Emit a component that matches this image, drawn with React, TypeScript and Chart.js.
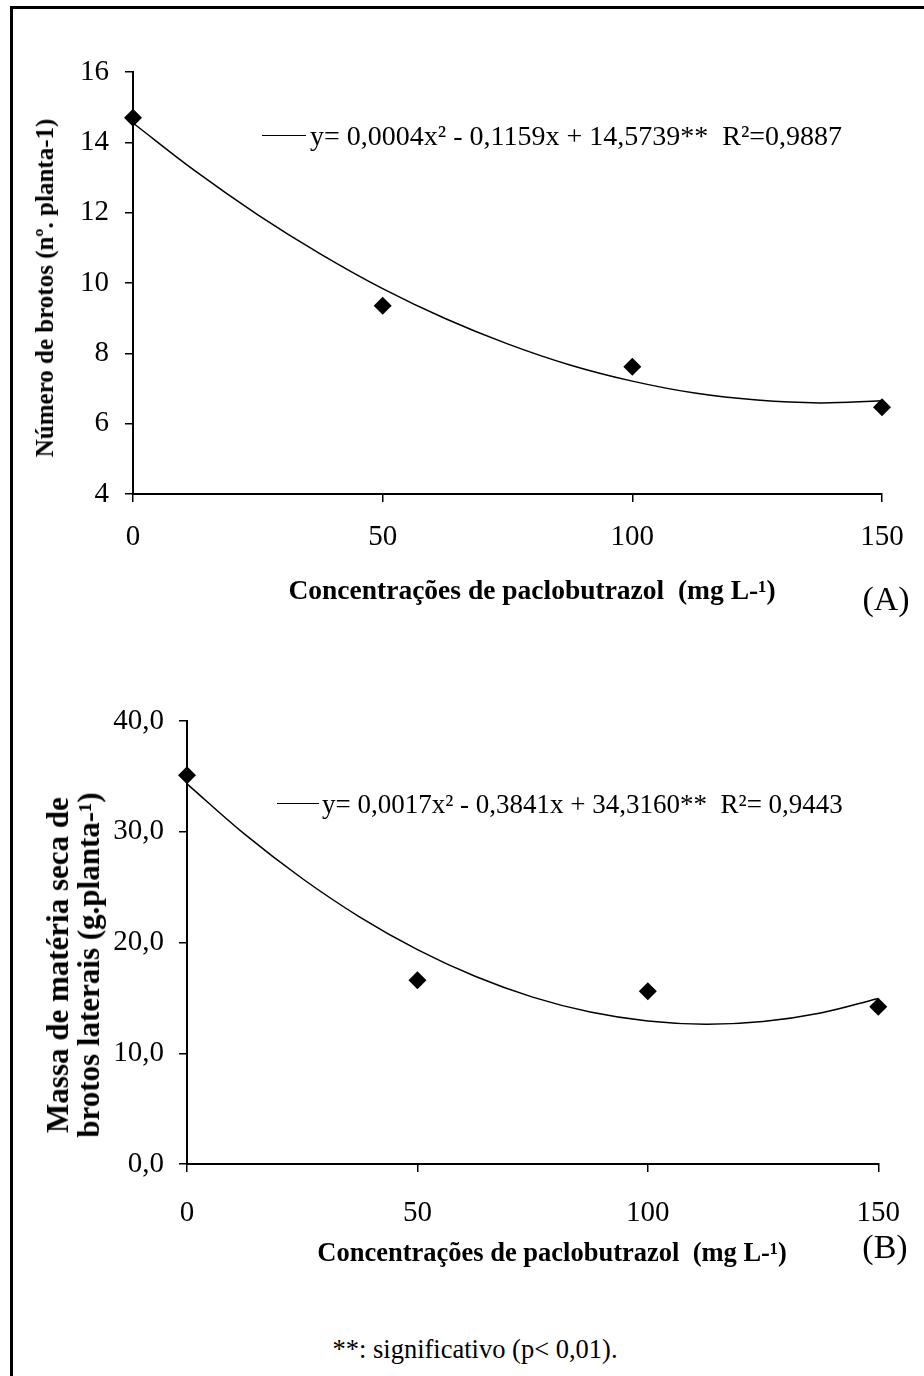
import React, { useEffect, useRef } from "react";
import { Chart, registerables } from "chart.js";

Chart.register(...registerables);

// ---------- data ----------
const concentrations = [0, 50, 100, 150];
const xTickValues = [0, 50, 100, 150];

// Panel A: number of shoots
const shootsA = [14.7, 9.35, 7.62, 6.47];
const trendXA = [0, 12.5, 25, 37.5, 50, 62.5, 75, 87.5, 100, 112.5, 125, 137.5, 150];
const trendYA = [14.55, 13.18, 11.94, 10.83, 9.84, 8.99, 8.27, 7.67, 7.21, 6.87, 6.67, 6.59, 6.65];
const yTicksA = [4, 6, 8, 10, 12, 14, 16];

// Panel B: dry mass of lateral shoots
const massB = [35.1, 16.6, 15.6, 14.2];
const trendXB = [0, 12.5, 25, 37.5, 50, 62.5, 75, 87.5, 100, 112.5, 125, 137.5, 150];
const trendYB = [34.32, 29.78, 25.78, 22.3, 19.36, 16.95, 15.07, 13.72, 12.91, 12.62, 12.87, 13.64, 14.95];
const yTicksB = [0, 10, 20, 30, 40];

const SERIF = "'Liberation Serif', 'Times New Roman', serif";

type PanelProps = {
  top: number;
  width: number;
  height: number;
  area: { left: number; right: number; top: number; bottom: number };
  yTicks: number[];
  yFormat: (v: number) => string;
  points: number[];
  trendX: number[];
  trendY: number[];
  xLabelPad: number;
  yLabelPad: number;
};

function Panel(p: PanelProps) {
  const ref = useRef<HTMLCanvasElement | null>(null);
  useEffect(() => {
    if (!ref.current) return;
    const yMin = p.yTicks[0];
    const yMax = p.yTicks[p.yTicks.length - 1];
    const chart = new Chart(ref.current, {
      type: "scatter",
      data: {
        datasets: [
          {
            type: "scatter",
            data: concentrations.map((x, i) => ({ x, y: p.points[i] })),
            pointStyle: "rectRot",
            pointRadius: 9,
            pointHoverRadius: 9,
            backgroundColor: "#000",
            borderColor: "#000",
            borderWidth: 0,
            clip: false,
          } as any,
          {
            type: "line",
            data: p.trendX.map((x, i) => ({ x, y: p.trendY[i] })),
            borderColor: "#000",
            borderWidth: 1.5,
            pointRadius: 0,
            tension: 0.4,
            fill: false,
            clip: false,
          } as any,
        ],
      },
      options: {
        animation: false,
        responsive: false,
        maintainAspectRatio: false,
        events: [],
        layout: {
          padding: { left: 0, right: p.width - p.area.right, top: p.area.top, bottom: 0 },
        },
        plugins: { legend: { display: false }, tooltip: { enabled: false } },
        scales: {
          x: {
            type: "linear",
            min: 0,
            max: 150,
            afterBuildTicks: (s: any) => {
              s.ticks = xTickValues.map((v) => ({ value: v }));
            },
            afterFit: (s: any) => {
              s.height = p.height - p.area.bottom;
            },
            ticks: {
              color: "#000",
              font: { family: SERIF, size: 29 },
              padding: p.xLabelPad,
              maxRotation: 0,
              autoSkip: false,
            },
            grid: {
              display: true,
              drawOnChartArea: false,
              drawTicks: true,
              tickLength: 8,
              color: "#000",
              lineWidth: 1.5,
            },
            border: { display: true, color: "#000", width: 2 },
          },
          y: {
            type: "linear",
            min: yMin,
            max: yMax,
            afterBuildTicks: (s: any) => {
              s.ticks = p.yTicks.map((v) => ({ value: v }));
            },
            afterFit: (s: any) => {
              s.width = p.area.left;
            },
            ticks: {
              color: "#000",
              font: { family: SERIF, size: 29 },
              padding: p.yLabelPad,
              callback: (v: any) => p.yFormat(Number(v)),
            },
            grid: {
              display: true,
              drawOnChartArea: false,
              drawTicks: true,
              tickLength: 8,
              color: "#000",
              lineWidth: 1.5,
            },
            border: { display: true, color: "#000", width: 2 },
          },
        },
      } as any,
    });
    return () => chart.destroy();
  }, []);
  return (
    <canvas
      ref={ref}
      width={p.width}
      height={p.height}
      style={{ position: "absolute", left: 0, top: p.top, width: p.width, height: p.height }}
    />
  );
}

const abs = (x: number, y: number, extra: React.CSSProperties = {}): React.CSSProperties => ({
  position: "absolute",
  left: x,
  top: y,
  transform: "translate(-50%, -50%)",
  whiteSpace: "nowrap",
  fontFamily: SERIF,
  color: "#000",
  ...extra,
});

export default function App() {
  return (
    <div
      style={{
        position: "absolute",
        left: 0,
        top: 0,
        width: 924,
        height: 1376,
        overflow: "hidden",
        background: "#fff",
      }}
    >
      <div
        style={{
          position: "absolute",
          left: 10,
          top: 6,
          width: 960,
          height: 1420,
          borderTop: "3px solid #000",
          borderLeft: "3px solid #000",
        }}
      />

      {/* Panel A */}
      <Panel
        top={0}
        width={924}
        height={600}
        area={{ left: 133, right: 882, top: 72, bottom: 494 }}
        yTicks={yTicksA}
        yFormat={(v) => String(v)}
        points={shootsA}
        trendX={trendXA}
        trendY={trendYA}
        xLabelPad={18}
        yLabelPad={16}
      />
      <div style={{ position: "absolute", left: 262, top: 135, width: 44, height: 0, borderTop: "1.5px solid #000" }} />
      <div style={abs(0, 136, { transform: "translate(0, -50%)", left: 310, fontSize: 28 })}>
        y= 0,0004x² - 0,1159x + 14,5739**&nbsp;&nbsp;R²=0,9887
      </div>
      <div style={abs(45, 288, { transform: "translate(-50%, -50%) rotate(-90deg)", fontSize: 25, fontWeight: "bold" })}>
        Número de brotos (nº. planta-1)
      </div>
      <div style={abs(532, 590, { fontSize: 27.5, fontWeight: "bold" })}>
        Concentrações de paclobutrazol&nbsp; (mg L-¹)
      </div>
      <div style={abs(886, 599, { fontSize: 34 })}>(A)</div>

      {/* Panel B */}
      <Panel
        top={620}
        width={924}
        height={620}
        area={{ left: 187, right: 883, top: 101, bottom: 544 }}
        yTicks={yTicksB}
        yFormat={(v) => v.toFixed(1).replace(".", ",")}
        points={massB}
        trendX={trendXB}
        trendY={trendYB}
        xLabelPad={24}
        yLabelPad={15}
      />
      <div style={{ position: "absolute", left: 277, top: 803, width: 42, height: 0, borderTop: "1.5px solid #000" }} />
      <div style={abs(0, 804, { transform: "translate(0, -50%)", left: 322, fontSize: 27 })}>
        y= 0,0017x² - 0,3841x + 34,3160**&nbsp;&nbsp;R²= 0,9443
      </div>
      <div
        style={abs(73, 965, {
          transform: "translate(-50%, -50%) rotate(-90deg)",
          fontSize: 31,
          fontWeight: "bold",
          textAlign: "center",
          lineHeight: "31px",
        })}
      >
        Massa de matéria seca de
        <br />
        brotos laterais (g.planta-¹)
      </div>
      <div style={abs(552, 1252, { fontSize: 26.5, fontWeight: "bold" })}>
        Concentrações de paclobutrazol&nbsp; (mg L-¹)
      </div>
      <div style={abs(885, 1247, { fontSize: 34 })}>(B)</div>

      <div style={abs(475, 1349, { fontSize: 26.5 })}>**: significativo (p&lt; 0,01).</div>
    </div>
  );
}
